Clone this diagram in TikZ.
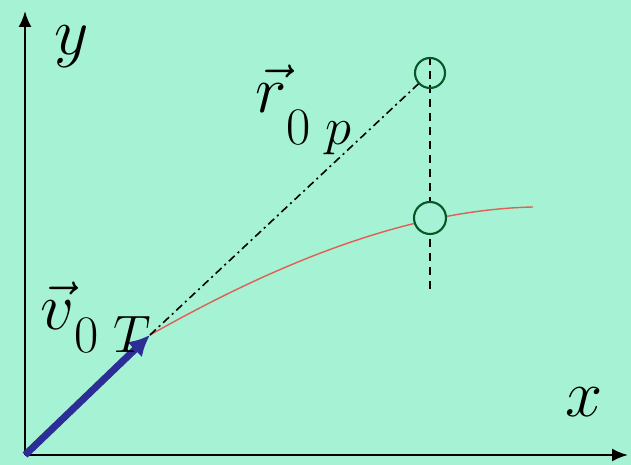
\RequirePackage{fix-cm}
\documentclass[tikz,border=0pt]{standalone}
\usepackage{amsmath}
\usepackage{tikz}
\usetikzlibrary{calc}
\usetikzlibrary{arrows.meta}
\usetikzlibrary{positioning}

\definecolor{mint}{RGB}{166,242,212}
\definecolor{arrowblue}{RGB}{45,45,150}
\definecolor{curvered}{RGB}{225,95,85}
\definecolor{ringgreen}{RGB}{10,85,40}

\tikzset{
    axis/.style={line width=1.3pt, -{Latex[length=0.32cm,width=0.26cm]}},
    ring/.style={draw=ringgreen, line width=1.2pt},
    biglabel/.style={inner sep=0pt, font=\fontsize{38}{40}\selectfont},
}

\begin{document}
\begin{tikzpicture}
            \fill[mint] (0,0) rectangle (12.62,9.3);
            \useasboundingbox (0,0) rectangle (12.62,9.3);

            \coordinate (O) at (0.5,0.2);
            \coordinate (Y) at (0.5,9.08);
            \coordinate (X) at (12.56,0.2);
            \coordinate (A) at (3.0,2.6);
            \coordinate (P) at (8.6,7.84);
            \coordinate (Q) at (8.6,4.94);
            \coordinate (E) at (10.66,5.16);
            \coordinate (T) at (8.6,8.16);
            \coordinate (B) at (8.6,3.46);

            \draw[axis] (O)--(Y);
            \draw[axis] (O)--(X);

            \draw[curvered, line width=0.8pt] (A) .. controls (5.3,3.9) and (8.0,5.1) .. (E);
            \draw[line width=0.9pt, dash pattern=on 0.16cm off 0.12cm] (T)--(B);
            \draw[line width=0.9pt, dash pattern=on 0.16cm off 0.08cm on 0.04cm off 0.08cm] (A)--($(P)!0.3cm!(A)$);

            \draw[ring] (P) circle (0.3);
            \filldraw[ring, fill=mint] (Q) circle (0.32);

            \draw[arrowblue, line width=4pt, -{Latex[length=0.42cm,width=0.42cm]}] (O)--(A);

            \node[biglabel] (ylab) at (1.44,8.36) {\(y\)};
            \node[biglabel] (xlab) at (11.68,1.26) {\(x\)};
            \node[biglabel, anchor=base west] (rlab) at (5.1,7.04)
                {\(\vec{r}\)\raisebox{-18pt}{\fontsize{30}{32}\selectfont\(0\;p\)}};
            \node[biglabel, anchor=base west] (vlab) at (0.8,2.7)
                {\(\vec{v}\)\raisebox{-13pt}{\fontsize{30}{32}\selectfont\(0\;T\)}};
\end{tikzpicture}
\end{document}
